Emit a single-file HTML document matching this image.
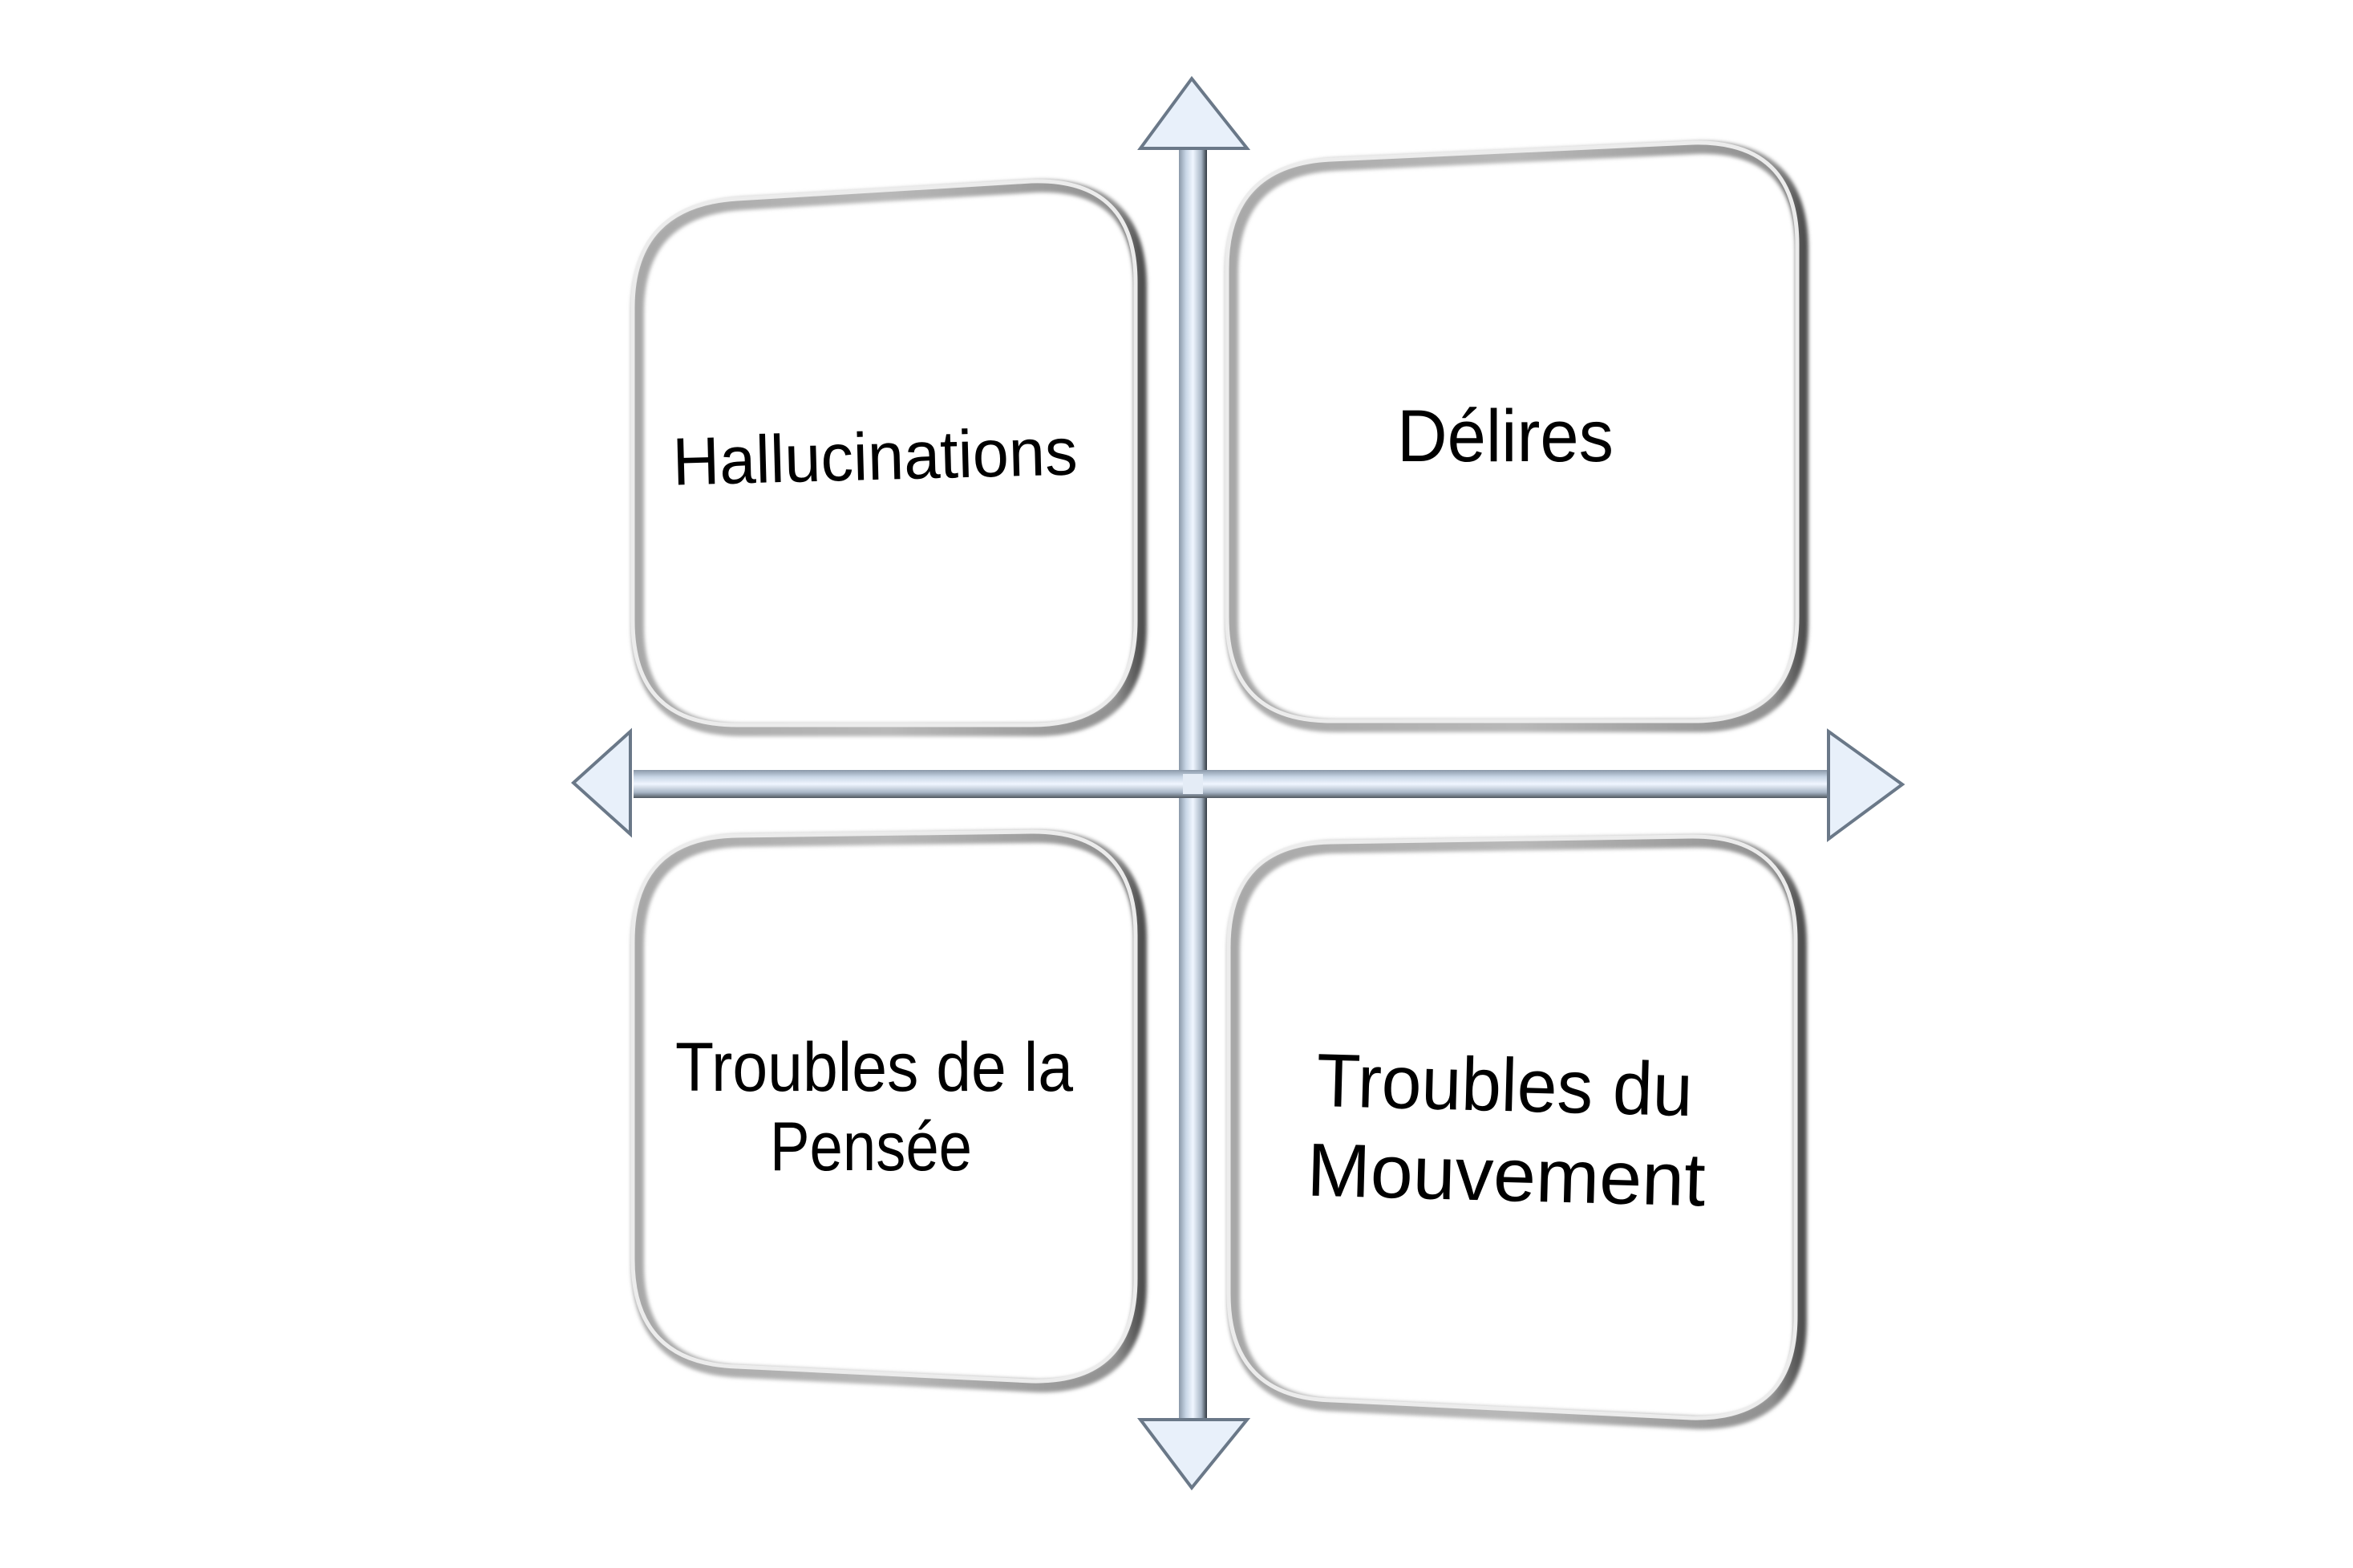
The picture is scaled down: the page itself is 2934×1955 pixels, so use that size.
<!DOCTYPE html>
<html><head><meta charset="utf-8"><style>
html,body{margin:0;padding:0;background:#fff;}
svg{display:block;}
text{font-family:"Liberation Sans",sans-serif;fill:#000;}
</style></head><body>
<svg width="2934" height="1955" viewBox="0 0 2934 1955" xmlns="http://www.w3.org/2000/svg">
<defs>
<linearGradient id="shaftV" x1="0" x2="1" y1="0" y2="0">
<stop offset="0" stop-color="#8a98a8"/><stop offset="0.25" stop-color="#c8d6e6"/><stop offset="0.5" stop-color="#f0f6ff"/><stop offset="0.8" stop-color="#a8b6c6"/><stop offset="1" stop-color="#303840"/>
</linearGradient>
<linearGradient id="shaftH" x1="0" x2="0" y1="0" y2="1">
<stop offset="0" stop-color="#8a98a8"/><stop offset="0.25" stop-color="#c8d6e6"/><stop offset="0.5" stop-color="#f0f6ff"/><stop offset="0.8" stop-color="#a8b6c6"/><stop offset="1" stop-color="#505860"/>
</linearGradient>
<linearGradient id="edge" x1="0" x2="1" y1="0" y2="0">
<stop offset="0" stop-color="#a8a8a8"/><stop offset="0.5" stop-color="#b8b8b8"/><stop offset="0.95" stop-color="#909090"/><stop offset="1" stop-color="#505050"/>
</linearGradient>
<filter id="sh" x="-5%" y="-5%" width="110%" height="110%"><feGaussianBlur stdDeviation="2.5"/></filter>
</defs>

<g fill="none">
<path d="M925 254 L1292 232 Q1422 228 1422 358 L1422 780 Q1422 910 1292 910 L925 910 Q795 910 795 780 L795 390 Q795 262 925 254 Z" stroke="url(#edge)" stroke-width="16" filter="url(#sh)"/>
<path d="M925 254 L1292 232 Q1422 228 1422 358 L1422 780 Q1422 910 1292 910 L925 910 Q795 910 795 780 L795 390 Q795 262 925 254 Z" stroke="#ececec" stroke-width="5" transform="translate(-6,-6)"/>

<path d="M1666 205 L2117 184 Q2247 181 2247 311 L2247 775 Q2247 905 2117 905 L1666 905 Q1536 905 1536 775 L1536 341 Q1536 211 1666 205 Z" stroke="url(#edge)" stroke-width="16" filter="url(#sh)"/>
<path d="M1666 205 L2117 184 Q2247 181 2247 311 L2247 775 Q2247 905 2117 905 L1666 905 Q1536 905 1536 775 L1536 341 Q1536 211 1666 205 Z" stroke="#ececec" stroke-width="5" transform="translate(-6,-6)"/>

<path d="M925 1048 L1292 1043 Q1422 1042 1422 1172 L1422 1600 Q1422 1731 1292 1728 L925 1710 Q795 1706 795 1576 L795 1180 Q795 1050 925 1048 Z" stroke="url(#edge)" stroke-width="16" filter="url(#sh)"/>
<path d="M925 1048 L1292 1043 Q1422 1042 1422 1172 L1422 1600 Q1422 1731 1292 1728 L925 1710 Q795 1706 795 1576 L795 1180 Q795 1050 925 1048 Z" stroke="#ececec" stroke-width="5" transform="translate(-6,-6)"/>

<path d="M1668 1056 L2115 1049 Q2245 1048 2245 1178 L2245 1647 Q2245 1777 2115 1774 L1668 1752 Q1538 1749 1538 1619 L1538 1187 Q1538 1057 1668 1056 Z" stroke="url(#edge)" stroke-width="16" filter="url(#sh)"/>
<path d="M1668 1056 L2115 1049 Q2245 1048 2245 1178 L2245 1647 Q2245 1777 2115 1774 L1668 1752 Q1538 1749 1538 1619 L1538 1187 Q1538 1057 1668 1056 Z" stroke="#ececec" stroke-width="5" transform="translate(-6,-6)"/>
</g>

<g>
<rect x="1470" y="180" width="35" height="1595" fill="url(#shaftV)"/>
<rect x="790" y="960" width="1495" height="35" fill="url(#shaftH)"/>
<path d="M1486 98 L1555 185 L1422 185 Z" fill="#e8f0fa" stroke="#6a7888" stroke-width="4"/>
<path d="M1486 1855 L1555 1770 L1422 1770 Z" fill="#e8f0fa" stroke="#6a7888" stroke-width="4"/>
<path d="M715 976 L786 912 L786 1040 Z" fill="#e8f0fa" stroke="#6a7888" stroke-width="4"/>
<path d="M2372 978 L2280 912 L2280 1046 Z" fill="#e8f0fa" stroke="#6a7888" stroke-width="4"/>
<rect x="1475" y="965" width="25" height="25" fill="#e4ecf6"/>
</g>

<text x="1091" y="598" font-size="84" text-anchor="middle" textLength="505" lengthAdjust="spacingAndGlyphs" transform="rotate(-1.5 1091 570)">Hallucinations</text>
<text x="1877" y="575" font-size="92" text-anchor="middle" textLength="270" lengthAdjust="spacingAndGlyphs">Délires</text>
<text x="1090" y="1360" font-size="86" text-anchor="middle" textLength="496" lengthAdjust="spacingAndGlyphs">Troubles de la</text>
<text x="1086" y="1459" font-size="86" text-anchor="middle" textLength="252" lengthAdjust="spacingAndGlyphs">Pensée</text>
<text x="1876" y="1385" font-size="94" text-anchor="middle" textLength="469" lengthAdjust="spacingAndGlyphs" transform="rotate(1.5 1876 1360)">Troubles du</text>
<text x="1878" y="1497" font-size="94" text-anchor="middle" textLength="497" lengthAdjust="spacingAndGlyphs" transform="rotate(1.5 1878 1470)">Mouvement</text>
</svg>
</body></html>
